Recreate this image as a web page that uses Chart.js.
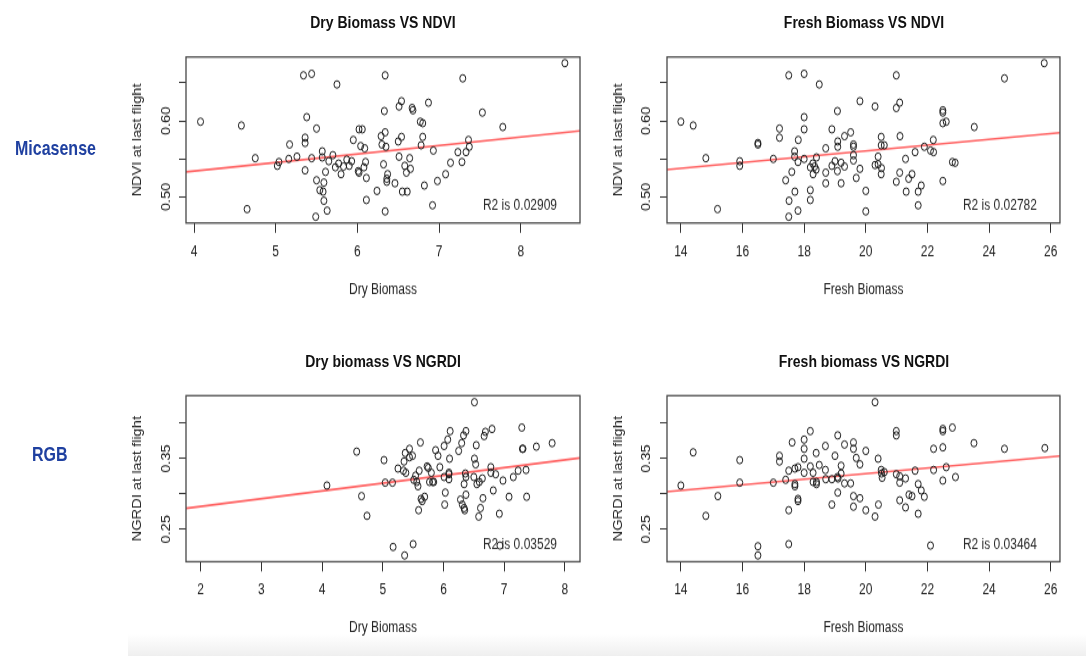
<!DOCTYPE html>
<html><head><meta charset="utf-8">
<script src="https://cdn.jsdelivr.net/npm/chart.js@4.4.0/dist/chart.umd.min.js"></script>
<style>
html,body{margin:0;padding:0;background:#fff;width:1086px;height:656px;overflow:hidden;}
#stage{position:absolute;left:0;top:0;width:1086px;height:538px;transform:scaleY(1.22);transform-origin:0 0;}
canvas{position:absolute;}
.ttl{position:absolute;transform:translate(-50%,-50%);font:bold 14px "Liberation Sans",Arial,sans-serif;color:#111;white-space:nowrap;}
.row{position:absolute;transform:translateY(-50%);font:bold 16px "Liberation Sans",Arial,sans-serif;color:#1f40a0;white-space:nowrap;}
#shade{position:absolute;left:128px;top:634px;width:958px;height:22px;background:linear-gradient(#ffffff,#efefef);}
</style></head><body>
<div id="shade"></div>
<div id="stage">
  <div class="ttl" style="left:383px;top:18px">Dry Biomass VS NDVI</div>
  <div class="ttl" style="left:864px;top:18px">Fresh Biomass VS NDVI</div>
  <div class="ttl" style="left:383px;top:296px">Dry biomass VS NGRDI</div>
  <div class="ttl" style="left:864px;top:296px">Fresh biomass VS NGRDI</div>
  <div class="row" style="left:15px;top:121.7px">Micasense</div>
  <div class="row" style="left:32px;top:373.4px">RGB</div>
  <canvas id="c1"></canvas>
  <canvas id="c2"></canvas>
  <canvas id="c3"></canvas>
  <canvas id="c4"></canvas>
</div>
<script>
// ---------- Data ----------
// Panel 1: Dry Biomass vs NDVI
const dryNdvi_dry = [4.08,4.58,4.65,4.75,5.02,5.04,5.16,5.17,5.26,5.34,
5.44,5.38,5.36,5.36,5.36,5.44,5.50,5.50,5.54,5.57,
5.57,5.59,5.58,5.59,5.63,5.49,5.61,5.70,5.65,5.75,
5.73,5.77,5.80,5.83,5.87,5.90,5.93,5.95,6.02,6.06,
6.04,6.09,6.01,6.02,6.08,6.10,6.11,6.11,6.33,6.34,
6.34,6.29,6.30,6.35,6.32,6.37,6.36,6.36,6.34,6.24,
6.46,6.51,6.54,6.54,6.50,6.51,6.58,6.55,6.61,6.60,
6.64,6.65,6.67,6.68,6.77,6.80,6.87,6.80,6.78,6.82,
6.93,6.92,6.98,7.08,7.14,7.23,7.28,7.29,7.33,7.36,
7.37,7.53,7.78,8.54];
const dryNdvi_ndvi = [0.599,0.594,0.484,0.551,0.541,0.546,0.550,0.569,0.553,0.660,
0.662,0.605,0.578,0.571,0.535,0.551,0.590,0.522,0.509,0.560,
0.552,0.519,0.507,0.495,0.482,0.474,0.533,0.555,0.547,0.648,
0.539,0.544,0.530,0.540,0.549,0.541,0.547,0.575,0.589,0.589,
0.567,0.564,0.534,0.532,0.539,0.546,0.525,0.496,0.613,0.660,
0.585,0.580,0.569,0.566,0.543,0.530,0.524,0.520,0.481,0.508,
0.518,0.619,0.626,0.579,0.573,0.553,0.541,0.507,0.507,0.532,
0.551,0.537,0.617,0.614,0.599,0.597,0.624,0.579,0.568,0.515,
0.561,0.489,0.521,0.530,0.545,0.559,0.546,0.656,0.559,0.575,
0.566,0.611,0.592,0.676];
const dryNdvi_fitX = [3.902, 8.725];
const dryNdvi_fitY = [0.533, 0.587];

// Panel 2: Fresh Biomass vs NDVI
const freshNdvi_fresh = [14.00,14.40,14.81,15.19,15.91,15.91,16.50,16.50,17.00,17.20,
17.20,17.50,17.40,17.60,17.51,17.50,17.80,17.81,17.69,17.69,
17.70,17.80,18.00,18.00,18.00,18.00,18.49,18.20,18.20,18.20,
18.28,18.29,18.34,18.39,18.40,18.70,18.70,18.70,18.90,18.90,
19.00,19.08,19.09,19.09,19.08,19.20,19.20,19.31,19.31,19.51,
19.60,19.60,19.60,19.60,19.69,19.81,19.81,20.00,20.00,20.30,
20.30,20.40,20.40,20.50,20.50,20.51,20.50,20.60,20.99,20.99,
21.10,21.11,20.99,21.10,21.29,21.31,21.39,21.50,21.60,21.70,
21.70,21.80,21.90,22.10,22.19,22.20,22.50,22.50,22.50,22.61,
22.50,22.81,22.90,23.52,24.50,25.79];
const freshNdvi_ndvi = [0.599,0.594,0.551,0.484,0.547,0.541,0.571,0.569,0.550,0.590,
0.578,0.660,0.522,0.533,0.495,0.474,0.482,0.575,0.560,0.553,
0.507,0.546,0.662,0.605,0.589,0.550,0.648,0.539,0.509,0.496,
0.544,0.530,0.540,0.536,0.552,0.564,0.532,0.518,0.589,0.541,
0.547,0.613,0.573,0.566,0.534,0.545,0.518,0.580,0.540,0.585,
0.569,0.566,0.555,0.548,0.525,0.626,0.537,0.508,0.481,0.619,
0.542,0.553,0.543,0.579,0.568,0.538,0.530,0.568,0.660,0.617,
0.624,0.580,0.520,0.532,0.550,0.507,0.524,0.530,0.559,0.507,
0.489,0.515,0.566,0.561,0.575,0.559,0.614,0.611,0.597,0.599,
0.521,0.546,0.545,0.592,0.656,0.676];
const freshNdvi_fitX = [13.55, 26.30];
const freshNdvi_fitY = [0.5361, 0.5846];

// Panel 3: Dry biomass vs NGRDI
const dryNgrdi_dry = [4.08,4.57,4.65,4.74,5.02,5.04,5.16,5.17,5.25,5.34,
5.38,5.35,5.37,5.36,5.44,5.44,5.49,5.50,5.51,5.54,
5.56,5.58,5.60,5.59,5.62,5.63,5.65,5.69,5.73,5.75,
5.77,5.82,5.84,5.80,5.87,5.91,5.94,6.01,6.01,6.03,
6.02,6.07,6.09,6.09,6.09,6.10,6.11,6.25,6.30,6.33,
6.37,6.28,6.31,6.34,6.35,6.34,6.36,6.37,6.37,6.51,
6.51,6.53,6.54,6.50,6.55,6.58,6.59,6.61,6.64,6.65,
6.69,6.67,6.78,6.80,6.78,6.82,6.86,6.92,6.93,6.98,
7.08,7.15,7.23,7.29,7.30,7.31,7.36,7.37,7.53,7.79];
const dryNgrdi_ngrdi = [0.312,0.360,0.297,0.269,0.348,0.316,0.316,0.225,0.336,0.333,
0.330,0.346,0.358,0.213,0.364,0.352,0.354,0.229,0.320,0.326,
0.317,0.311,0.333,0.277,0.373,0.293,0.290,0.296,0.339,0.337,
0.317,0.317,0.317,0.330,0.362,0.354,0.338,0.368,0.324,0.302,
0.285,0.377,0.321,0.328,0.330,0.350,0.389,0.361,0.372,0.383,
0.389,0.292,0.285,0.280,0.277,0.314,0.329,0.324,0.299,0.430,
0.350,0.342,0.369,0.324,0.314,0.268,0.317,0.280,0.322,0.294,
0.388,0.382,0.338,0.392,0.330,0.305,0.328,0.272,0.227,0.319,
0.296,0.324,0.333,0.394,0.364,0.364,0.334,0.296,0.367,0.372];
const dryNgrdi_fitX = [1.758, 8.249];
const dryNgrdi_fitY = [0.2797, 0.351];

// Panel 4: Fresh biomass vs NGRDI
const freshNgrdi_fresh = [14.00,14.40,14.81,15.20,15.91,15.91,16.50,16.50,17.00,17.20,
17.20,17.40,17.50,17.50,17.50,17.61,17.70,17.70,17.70,17.80,
17.80,17.80,18.00,18.00,18.00,18.00,18.20,18.20,18.29,18.29,
18.39,18.40,18.40,18.49,18.69,18.69,18.70,18.90,18.90,19.00,
19.09,19.08,19.09,19.10,19.20,19.20,19.31,19.31,19.51,19.60,
19.60,19.60,19.60,19.69,19.81,19.81,20.00,20.00,20.30,20.30,
20.40,20.41,20.50,20.51,20.53,20.60,20.99,20.99,20.99,21.10,
21.10,21.10,21.29,21.29,21.40,21.50,21.60,21.70,21.70,21.80,
21.90,22.10,22.20,22.20,22.50,22.50,22.50,22.50,22.61,22.81,
22.91,23.51,24.50,25.81];
const freshNgrdi_ngrdi = [0.312,0.359,0.269,0.297,0.348,0.316,0.226,0.213,0.316,0.354,
0.346,0.320,0.333,0.277,0.229,0.373,0.336,0.314,0.311,0.338,
0.293,0.290,0.377,0.364,0.350,0.330,0.389,0.339,0.330,0.317,
0.358,0.317,0.314,0.341,0.368,0.334,0.321,0.321,0.285,0.354,
0.383,0.324,0.302,0.322,0.340,0.329,0.370,0.315,0.315,0.373,
0.364,0.297,0.282,0.351,0.342,0.294,0.361,0.277,0.430,0.268,
0.350,0.285,0.334,0.329,0.323,0.331,0.389,0.383,0.328,0.325,
0.316,0.291,0.322,0.281,0.299,0.297,0.333,0.314,0.272,0.305,
0.296,0.227,0.364,0.334,0.392,0.389,0.366,0.319,0.338,0.394,
0.324,0.372,0.364,0.365];
const freshNgrdi_fitX = [13.55, 26.30];
const freshNgrdi_fitY = [0.3033, 0.3538];

// Tick values and labels
const dryTicksTop = [4,5,6,7,8];
const dryTickLabelsTop = ['4','5','6','7','8'];
const dryTicksBottom = [2,3,4,5,6,7,8];
const dryTickLabelsBottom = ['2','3','4','5','6','7','8'];
const freshTicks = [14,16,18,20,22,24,26];
const freshTickLabels = ['14','16','18','20','22','24','26'];
const ndviTicks = [0.50,0.55,0.60,0.65];
const ndviTickLabels = ['0.50','','0.60',''];
const ngrdiTicks = [0.25,0.30,0.35,0.40];
const ngrdiTickLabels = ['0.25','','0.35',''];

const r2Texts = ['R2 is 0.02909','R2 is 0.02782','R2 is 0.03529','R2 is 0.03464'];

// ---------- Rendering ----------
const FONT = '"Liberation Sans", Arial, Helvetica, sans-serif';

const framePlugin = {
  id: 'frame',
  afterDatasetsDraw(chart, args, opts) {
    const {ctx, chartArea: a} = chart;
    ctx.save();
    ctx.strokeStyle = '#474747';
    ctx.lineWidth = 1.3;
    ctx.strokeRect(a.left, a.top, a.right - a.left, a.bottom - a.top);
    ctx.fillStyle = '#2a2a2a';
    ctx.font = '12px ' + FONT;
    ctx.textAlign = 'right';
    ctx.textBaseline = 'middle';
    ctx.fillText(opts.text, a.right - 23, a.bottom - 14);
    ctx.restore();
  }
};

function panel(p) {
  const cv = document.getElementById(p.id);
  cv.width = p.box.w; cv.height = p.box.h;
  cv.style.left = p.box.x + 'px'; cv.style.top = p.box.y + 'px';
  cv.style.width = p.box.w + 'px'; cv.style.height = p.box.h + 'px';
  const a = p.area;
  new Chart(cv, {
    type: 'scatter',
    data: {
      datasets: [
        {
          data: p.xs.map((x, i) => ({x: x, y: p.ys[i]})),
          pointStyle: 'circle', pointRadius: 3, pointHoverRadius: 3,
          pointBorderWidth: 1, borderColor: '#1b1b1b', backgroundColor: 'rgba(0,0,0,0)'
        },
        {
          data: p.fx.map((x, i) => ({x: x, y: p.fy[i]})),
          showLine: true, borderColor: 'rgba(255,80,80,0.9)', borderWidth: 1.6,
          pointRadius: 0, pointHoverRadius: 0, fill: false
        }
      ]
    },
    options: {
      responsive: false, animation: false, events: [],
      layout: {padding: {top: a.t - p.box.y, right: p.box.x + p.box.w - a.r, left: 0, bottom: 0}},
      plugins: {legend: {display: false}, tooltip: {enabled: false}, title: {display: false},
                frame: {text: p.r2}},
      scales: {
        x: {
          type: 'linear', position: 'bottom', min: p.xMin, max: p.xMax,
          afterBuildTicks: s => { s.ticks = p.xTicks.map(v => ({value: v})); },
          afterFit: s => { s.height = p.box.y + p.box.h - a.b; },
          ticks: {autoSkip: false, minRotation: 0, maxRotation: 0, padding: 8.5, color: '#222',
                  font: {family: FONT, size: 12}, callback: (v, i) => p.xLabels[i]},
          grid: {display: true, drawOnChartArea: false, drawTicks: true, tickLength: 8,
                 tickColor: '#333', color: '#333', lineWidth: 1},
          border: {display: false},
          title: {display: true, text: p.xTitle, color: '#222', font: {family: FONT, size: 12},
                  padding: {top: 0, bottom: 3}}
        },
        y: {
          type: 'linear', position: 'left', min: p.yMin, max: p.yMax,
          afterBuildTicks: s => { s.ticks = p.yTicks.map(v => ({value: v})); },
          afterFit: s => { s.width = a.l - p.box.x; },
          ticks: {autoSkip: false, minRotation: 90, maxRotation: 90, crossAlign: 'center',
                  padding: p.yTickPad, color: '#222', font: {family: FONT, size: 12},
                  callback: (v, i) => p.yLabels[i]},
          grid: {display: true, drawOnChartArea: false, drawTicks: true, tickLength: 7,
                 tickColor: '#333', color: '#333', lineWidth: 1},
          border: {display: false},
          title: {display: true, text: p.yTitle, color: '#222', font: {family: FONT, size: 12},
                  padding: {top: p.yTitlePad, bottom: 0}}
        }
      }
    },
    plugins: [framePlugin]
  });
}

panel({id: 'c1', box: {x: 120, y: 36, w: 465, h: 212}, area: {l: 186, r: 580, t: 46.7, b: 182.8},
  xs: dryNdvi_dry, ys: dryNdvi_ndvi, fx: dryNdvi_fitX, fy: dryNdvi_fitY,
  xMin: 3.902, xMax: 8.725, yMin: 0.4657, yMax: 0.6841,
  xTicks: dryTicksTop, xLabels: dryTickLabelsTop, yTicks: ndviTicks, yLabels: ndviTickLabels,
  xTitle: 'Dry Biomass', yTitle: 'NDVI at last flight', r2: r2Texts[0], yTitlePad: 10, yTickPad: 1});

panel({id: 'c2', box: {x: 600, y: 36, w: 466, h: 212}, area: {l: 667, r: 1061, t: 46.7, b: 182.8},
  xs: freshNdvi_fresh, ys: freshNdvi_ndvi, fx: freshNdvi_fitX, fy: freshNdvi_fitY,
  xMin: 13.55, xMax: 26.30, yMin: 0.4657, yMax: 0.6841,
  xTicks: freshTicks, xLabels: freshTickLabels, yTicks: ndviTicks, yLabels: ndviTickLabels,
  xTitle: 'Fresh Biomass', yTitle: 'NDVI at last flight', r2: r2Texts[1], yTitlePad: 11, yTickPad: 1.6});

panel({id: 'c3', box: {x: 120, y: 314, w: 465, h: 211}, area: {l: 186, r: 580, t: 324.3, b: 460.4},
  xs: dryNgrdi_dry, ys: dryNgrdi_ngrdi, fx: dryNgrdi_fitX, fy: dryNgrdi_fitY,
  xMin: 1.758, xMax: 8.249, yMin: 0.2041, yMax: 0.4392,
  xTicks: dryTicksBottom, xLabels: dryTickLabelsBottom, yTicks: ngrdiTicks, yLabels: ngrdiTickLabels,
  xTitle: 'Dry Biomass', yTitle: 'NGRDI at last flight', r2: r2Texts[2], yTitlePad: 10, yTickPad: 1});

panel({id: 'c4', box: {x: 600, y: 314, w: 466, h: 211}, area: {l: 667, r: 1061, t: 324.3, b: 460.4},
  xs: freshNgrdi_fresh, ys: freshNgrdi_ngrdi, fx: freshNgrdi_fitX, fy: freshNgrdi_fitY,
  xMin: 13.55, xMax: 26.30, yMin: 0.2041, yMax: 0.4392,
  xTicks: freshTicks, xLabels: freshTickLabels, yTicks: ngrdiTicks, yLabels: ngrdiTickLabels,
  xTitle: 'Fresh Biomass', yTitle: 'NGRDI at last flight', r2: r2Texts[3], yTitlePad: 11, yTickPad: 1.6});
</script>
</body></html>
